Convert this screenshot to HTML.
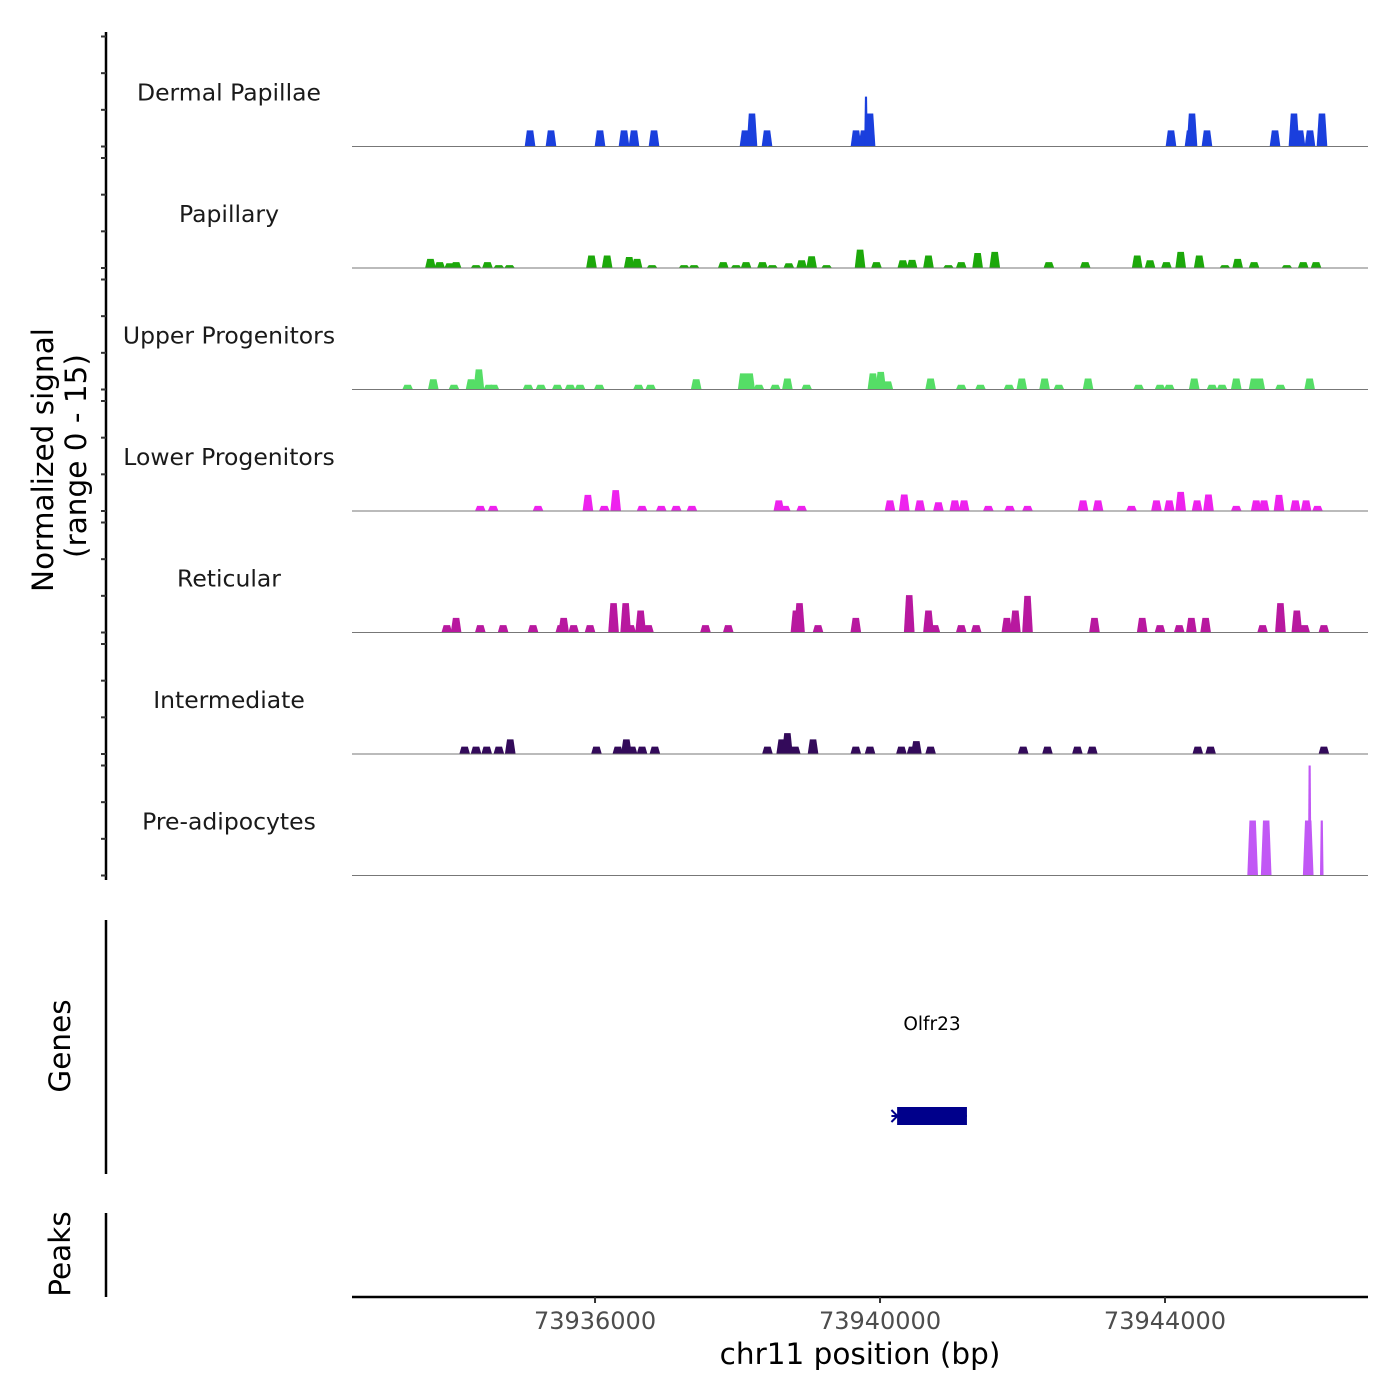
<!DOCTYPE html>
<html><head><meta charset="utf-8">
<style>
html,body{margin:0;padding:0;background:#fff;}
svg{display:block;font-family:"DejaVu Sans","Liberation Sans",sans-serif;}
</style></head>
<body>
<svg id="chart" width="1400" height="1400" viewBox="0 0 1400 1400" xmlns="http://www.w3.org/2000/svg">
<g id="tracks"></g>
<g id="axes"></g>
</svg>
<script>
const trackNames = ["Dermal Papillae","Papillary","Upper Progenitors","Lower Progenitors","Reticular","Intermediate","Pre-adipocytes"];
const trackColors = ["#1a3fdd","#1ca80a","#55dd66","#ee22ee","#b8189f","#330a5a","#c158f5"];
const xTicks = [73936000,73940000,73944000];
const yTicks = [0,5,10,15];

const dpPos = [73935088,73935382,73936070,73936407,73936547,73936828,73938105,73938203,73938414,73939663,73939775,73939803,73939860,73944084,73944351,73944379,73944589,73945544,73945810,73945895,73946035,73946203];
const dpVal = [2.2,2.2,2.2,2.2,2.2,2.2,2.2,4.5,2.2,2.2,2.2,6.8,4.5,2.2,2.2,4.5,2.2,2.2,4.5,2.2,2.2,4.5];

const paPos = [73933690,73933820,73933960,73934050,73934330,73934490,73934650,73934800,73935950,73936170,73936480,73936590,73936800,73937250,73937390,73937800,73937980,73938120,73938350,73938490,73938720,73938900,73939040,73939250,73939720,73939950,73940320,73940450,73940680,73940960,73941140,73941370,73941610,73942370,73942880,73943610,73943790,73944020,73944220,73944480,73944840,73945020,73945250,73945710,73945940,73946120];
const paVal = [1.25,0.8,0.65,0.8,0.4,0.8,0.4,0.4,1.7,1.7,1.5,1.25,0.4,0.4,0.4,0.8,0.4,0.8,0.8,0.4,0.65,1.05,1.6,0.4,2.5,0.8,1.05,1.1,1.7,0.4,0.8,2.05,2.2,0.8,0.8,1.7,1.05,0.8,2.2,1.7,0.4,1.25,0.8,0.4,0.8,0.8];

const upPos = [73933370,73933730,73934020,73934260,73934370,73934510,73934580,73935060,73935240,73935470,73935650,73935790,73936060,73936610,73936780,73937420,73938080,73938170,73938300,73938530,73938700,73938970,73939900,73940010,73940110,73940710,73941140,73941410,73941810,73941990,73942310,73942510,73942920,73943630,73943930,73944060,73944410,73944660,73944800,73945000,73945250,73945330,73945620,73946030];
const upVal = [0.65,1.4,0.65,1.4,2.75,0.65,0.65,0.65,0.65,0.65,0.65,0.65,0.65,0.65,0.65,1.4,2.2,2.2,0.65,0.65,1.5,0.65,2.2,2.4,1.1,1.5,0.65,0.65,0.65,1.5,1.5,0.65,1.5,0.65,0.65,0.65,1.5,0.65,0.65,1.5,1.5,1.5,0.65,1.5];

const loPos = [73934390,73934570,73935200,73935900,73936130,73936290,73936660,73936930,73937140,73937360,73938580,73938670,73938900,73940140,73940340,73940560,73940820,73941050,73941180,73941520,73941820,73942070,73942850,73943060,73943530,73943880,73944060,73944220,73944450,73944610,73945000,73945280,73945390,73945600,73945830,73945980,73946140];
const loVal = [0.7,0.7,0.7,2.2,0.7,2.85,0.7,0.7,0.7,0.7,1.45,0.7,0.7,1.45,2.25,1.45,1.2,1.45,1.45,0.7,0.7,0.7,1.45,1.45,0.7,1.45,1.45,2.6,1.45,2.25,0.7,1.45,1.45,2.2,1.45,1.45,0.7];

const rePos = [73933920,73934050,73934390,73934710,73935130,73935520,73935560,73935700,73935930,73936260,73936430,73936500,73936640,73936750,73937550,73937870,73938820,73938870,73939130,73939660,73940410,73940680,73940770,73941140,73941350,73941780,73941900,73942070,73943010,73943680,73943930,73944200,73944370,73944570,73945370,73945620,73945850,73945960,73946230];
const reVal = [1.0,2.0,1.0,1.0,1.0,1.0,2.0,1.0,1.0,4.0,4.0,1.0,3.0,1.0,1.0,1.0,3.0,4.0,1.0,2.0,5.1,3.0,1.0,1.0,1.0,2.0,3.0,5.0,2.0,2.0,1.0,1.0,2.0,2.0,1.0,4.0,3.0,1.0,1.0];

const inPos = [73934170,73934330,73934480,73934650,73934810,73936020,73936320,73936440,73936520,73936660,73936840,73938420,73938620,73938700,73938810,73939060,73939660,73939860,73940300,73940450,73940510,73940710,73942010,73942350,73942770,73942980,73944460,73944640,73946230];
const inVal = [1.0,1.0,1.0,1.0,2.0,1.0,1.0,2.0,1.0,1.0,1.0,1.0,2.0,2.85,1.0,2.0,1.0,1.0,1.0,1.0,1.75,1.0,1.0,1.0,1.0,1.0,1.0,1.0,1.0];

const adPos = [73945230,73945420,73946010,73946030,73946200];
const adVal = [7.5,7.5,7.5,15,7.5];

const trackPos = [dpPos,paPos,upPos,loPos,rePos,inPos,adPos];
const trackVal = [dpVal,paVal,upVal,loVal,reVal,inVal,adVal];

const geneName = "Olfr23";
const geneStart = 73940240;
const geneEnd = 73941220;
const geneTxStart = 73940160;

const NS = "http://www.w3.org/2000/svg";
const X0 = 352, X1 = 1368;
const D0 = 73932589, D1 = 73946849;
function xs(bp){ return X0 + (bp - D0) / (D1 - D0) * (X1 - X0); }
const TRACK_H = 110, STEP = 121.5, BASE0 = 146.5;
function baseY(i){ return BASE0 + i * STEP; }
function ys(i, v){ return baseY(i) - v / 15 * TRACK_H; }
function mk(tag, attrs, parent){
  const e = document.createElementNS(NS, tag);
  for (const k in attrs) e.setAttribute(k, attrs[k]);
  parent.appendChild(e);
  return e;
}
const tracks = document.getElementById('tracks');
const axes = document.getElementById('axes');
const W = 150;

for (let i = 0; i < trackNames.length; i++) {
  const g = mk('g', {}, tracks);
  
  
  const lab = mk('text', {x:229, y:baseY(i)-46, 'text-anchor':'middle', 'font-size':23.5, fill:'#1a1a1a'}, g);
  lab.textContent = trackNames[i];
  
  
  const pos = trackPos[i], val = trackVal[i];
  for (let j = 0; j < pos.length; j++) {
    const narrow = (i === 0 && val[j] > 5.5) || (i === 6 && (j === 3 || j === 4));
    const w = narrow ? 50 : W;
    const xa = xs(pos[j] - w/2), xb = xs(pos[j] + w/2);
    const inset = (xb - xa) * 0.2;
    const b = baseY(i), t = ys(i, val[j]);
    const p = mk('polygon', {points: `${xa},${b} ${xa+inset},${t} ${xb-inset},${t} ${xb},${b}`, fill: trackColors[i]}, g);
    
    
  }
  const bl = mk('line', {x1:X0, x2:X1, y1:baseY(i), y2:baseY(i), stroke:'#777', 'stroke-width':1}, g);
  
  
}

const ya = mk('line', {x1:106, x2:106, y1:32, y2:880, stroke:'#000', 'stroke-width':2.5}, axes);


for (let i = 0; i < trackNames.length; i++) {
  for (const t of yTicks) {
    const y = ys(i, t);
    const tk = mk('line', {x1:101, x2:106, y1:y, y2:y, stroke:'#333', 'stroke-width':2}, axes);
    
    
  }
}
const yt = mk('text', {transform:'translate(53,460) rotate(-90)', 'text-anchor':'middle', 'font-size':29.5, fill:'#000'}, axes);
yt.textContent = 'Normalized signal';


const yt2 = mk('text', {transform:'translate(86,456) rotate(-90)', 'text-anchor':'middle', 'font-size':29.5, fill:'#000'}, axes);
yt2.textContent = '(range 0 - 15)';



const ga = mk('line', {x1:106, x2:106, y1:920, y2:1174, stroke:'#000', 'stroke-width':2.5}, axes);


const gt = mk('text', {transform:'translate(70,1046) rotate(-90)', 'text-anchor':'middle', 'font-size':29.5, fill:'#000'}, axes);
gt.textContent = 'Genes';


const gl = mk('text', {x:(xs(geneStart)+xs(geneEnd))/2, y:1030, 'text-anchor':'middle', 'font-size':18.5, fill:'#000'}, axes);
gl.textContent = geneName;


const gline = mk('line', {x1:xs(geneTxStart), x2:xs(geneEnd), y1:1116, y2:1116, stroke:'#00008b', 'stroke-width':2}, axes);


const gr = mk('rect', {x:xs(geneStart), y:1107, width:xs(geneEnd)-xs(geneStart), height:18, fill:'#00008b'}, axes);


const garr = mk('path', {d:`M${xs(geneTxStart)},1110 l6,6 l-6,6`, stroke:'#00008b', 'stroke-width':2, fill:'none'}, axes);



const pa = mk('line', {x1:106, x2:106, y1:1213, y2:1297, stroke:'#000', 'stroke-width':2.5}, axes);


const pt = mk('text', {transform:'translate(70,1254) rotate(-90)', 'text-anchor':'middle', 'font-size':29.5, fill:'#000'}, axes);
pt.textContent = 'Peaks';



const xa = mk('line', {x1:X0, x2:X1, y1:1297, y2:1297, stroke:'#000', 'stroke-width':2.5}, axes);


for (const t of xTicks) {
  const x = xs(t);
  const tk = mk('line', {x1:x, x2:x, y1:1297, y2:1303, stroke:'#333', 'stroke-width':2}, axes);
  
  
  const tl = mk('text', {x:x, y:1329, 'text-anchor':'middle', 'font-size':24, fill:'#4d4d4d'}, axes);
  tl.textContent = String(t);
  
  
}
const xt = mk('text', {x:860, y:1364, 'text-anchor':'middle', 'font-size':29.5, fill:'#000'}, axes);
xt.textContent = 'chr11 position (bp)';


</script>
</body></html>
